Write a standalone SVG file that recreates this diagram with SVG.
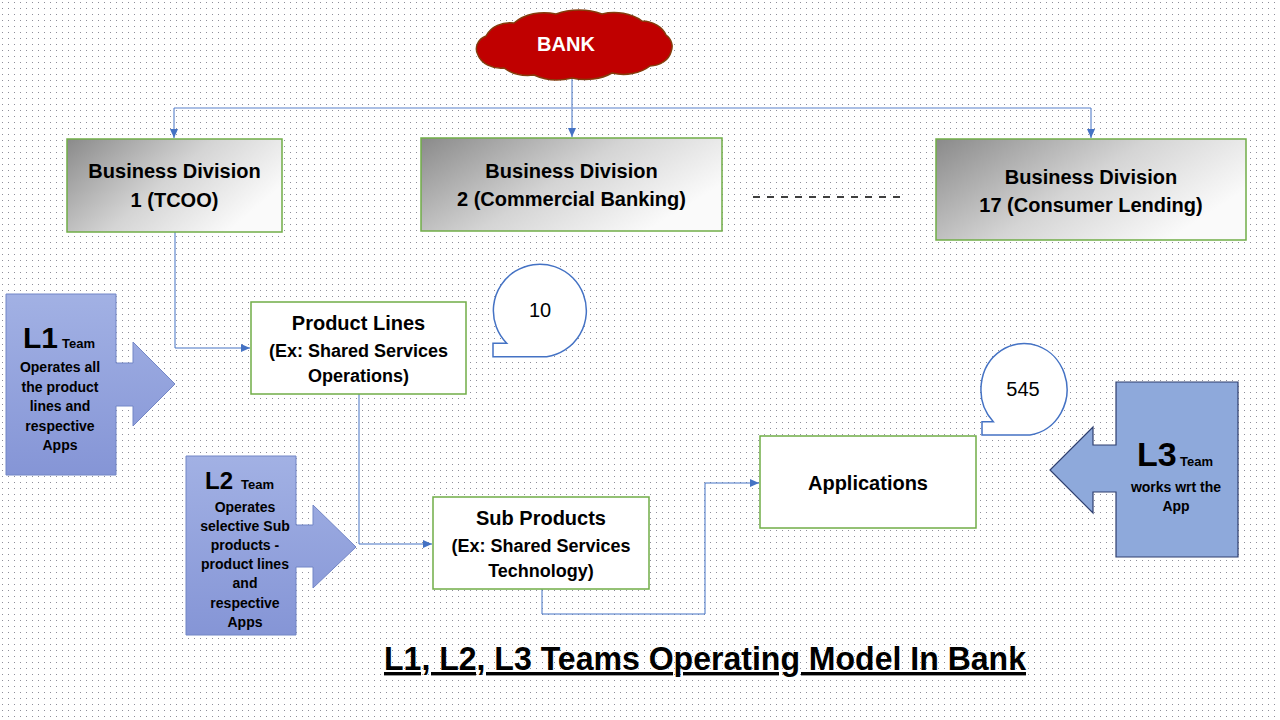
<svg xmlns="http://www.w3.org/2000/svg" width="1280" height="720" viewBox="0 0 1280 720">
<defs>
<pattern id="dots" width="6" height="6" patternUnits="userSpaceOnUse"><rect x="2" y="2" width="1" height="1" fill="#8e8e9a"/></pattern>
<linearGradient id="gray" x1="0" y1="0" x2="1" y2="0.5"><stop offset="0" stop-color="#8a8a8a"/><stop offset="0.55" stop-color="#d4d4d4"/><stop offset="1" stop-color="#fafafa"/></linearGradient>
<linearGradient id="blue" x1="0" y1="0" x2="0" y2="1"><stop offset="0" stop-color="#a2b1e4"/><stop offset="1" stop-color="#8595d6"/></linearGradient>
<marker id="arr" markerUnits="userSpaceOnUse" markerWidth="9" markerHeight="8" refX="9" refY="4" orient="auto"><path d="M0,0 L9,4 L0,8 z" fill="#4472C4"/></marker>
<style>
.t{font-family:"Liberation Sans",Arial,sans-serif;font-weight:bold;fill:#000;text-anchor:middle}
.bd{font-size:20px}
.sm{font-size:18px}
.lt{font-size:14px}
.box{fill:#fff;stroke:#70AD47;stroke-width:1.5}
.gbox{fill:url(#gray);stroke:#70AD47;stroke-width:1.5}
.con{fill:none;stroke:#4472C4;stroke-width:1}
.bub{fill:#fff;stroke:#4472C4;stroke-width:1.5}
.num{font-family:"Liberation Sans",Arial,sans-serif;font-size:20px;fill:#000;text-anchor:middle}
</style>
</defs>
<rect width="1280" height="720" fill="#fff"/>
<rect width="1280" height="720" fill="url(#dots)"/>

<g id="connectors">
<path class="con" d="M572,78 V137" marker-end="url(#arr)"/>
<path d="M174,108 H1091" fill="none" stroke="#8FAADC" stroke-width="1.5"/>
<path class="con" d="M174,108 V138" marker-end="url(#arr)"/>
<path class="con" d="M1091,108 V138" marker-end="url(#arr)"/>
<path class="con" d="M175,232 V348 H250" marker-end="url(#arr)"/>
<path class="con" d="M359,394 V544 H432" marker-end="url(#arr)"/>
<path class="con" d="M542,589 V614 H705 V483 H759" marker-end="url(#arr)"/>
<line x1="753" y1="197" x2="905" y2="197" stroke="#000" stroke-width="1.5" stroke-dasharray="7,7"/>
</g>

<g id="bank">
<path d="M478,55 A16,14 0 0 1 486,36 A26,22 0 0 1 514,23 A40,30 0 0 1 556,14 A46,30 0 0 1 602,14 A40,30 0 0 1 642,21 A26,20 0 0 1 666,35 A14,14 0 0 1 671,52 A22,18 0 0 1 650,66 A36,26 0 0 1 612,73 A40,26 0 0 1 572,78 A40,26 0 0 1 534,75 A34,24 0 0 1 504,68 A24,18 0 0 1 478,55 Z" fill="#C00000" stroke="#843C0C" stroke-width="1.5"/>
<text x="566" y="51" class="t" style="font-size:20px;fill:#fff">BANK</text>
</g>

<g id="bd1">
<rect class="gbox" x="67" y="139" width="215" height="93"/>
<text class="t bd" x="174.5" y="178">Business Division</text>
<text class="t bd" x="174.5" y="207">1 (TCOO)</text>
</g>
<g id="bd2">
<rect class="gbox" x="421" y="138" width="301" height="93"/>
<text class="t bd" x="571.5" y="178">Business Division</text>
<text class="t bd" x="571.5" y="206">2 (Commercial Banking)</text>
</g>
<g id="bd17">
<rect class="gbox" x="936" y="139" width="310" height="101"/>
<text class="t bd" x="1091" y="184">Business Division</text>
<text class="t bd" x="1091" y="212">17 (Consumer Lending)</text>
</g>

<g id="productlines">
<rect class="box" x="251" y="302" width="215" height="92"/>
<text class="t bd" x="358.5" y="330">Product Lines</text>
<text class="t sm" x="358.5" y="357">(Ex: Shared Services</text>
<text class="t sm" x="358.5" y="382">Operations)</text>
</g>
<g id="bubble10">
<path class="bub" d="M506.7,343.3 A46.5,46.5 0 1 1 546.7,356.7 H493 V343.3 Z"/>
<text class="num" x="540" y="317">10</text>
</g>

<g id="subproducts">
<rect class="box" x="433" y="497" width="216" height="92"/>
<text class="t bd" x="541" y="525">Sub Products</text>
<text class="t sm" x="541" y="552">(Ex: Shared Services</text>
<text class="t sm" x="541" y="577">Technology)</text>
</g>

<g id="applications">
<rect class="box" x="760" y="436" width="216" height="92"/>
<text class="t bd" x="868" y="490">Applications</text>
</g>
<g id="bubble545">
<path class="bub" d="M993.3,421.7 A43,46 0 1 1 1030,435 H982 V421.7 Z"/>
<text class="num" x="1023" y="396">545</text>
</g>

<g id="l1">
<path d="M6,294 H116 V363 H133 V342 L175,384 L133,426 V406 H116 V475 H6 Z" fill="url(#blue)" stroke="#7386c6" stroke-width="1"/>
<text x="23" y="348" class="t" style="text-anchor:start;font-size:30px">L1</text>
<text x="62" y="348" class="t" style="text-anchor:start;font-size:13px">Team</text>
<text class="t lt" x="60" y="372">Operates all</text>
<text class="t lt" x="60" y="392">the product</text>
<text class="t lt" x="60" y="411">lines and</text>
<text class="t lt" x="60" y="431">respective</text>
<text class="t lt" x="60" y="450">Apps</text>
</g>

<g id="l2">
<path d="M186,456 H296 V525 H313 V505 L356,547 L313,588 V567 H296 V635 H186 Z" fill="url(#blue)" stroke="#7386c6" stroke-width="1"/>
<text x="205" y="489" class="t" style="text-anchor:start;font-size:24px">L2</text>
<text x="241" y="489" class="t" style="text-anchor:start;font-size:13px">Team</text>
<text class="t lt" x="245" y="512">Operates</text>
<text class="t lt" x="245" y="531">selective Sub</text>
<text class="t lt" x="245" y="550">products -</text>
<text class="t lt" x="245" y="569">product lines</text>
<text class="t lt" x="245" y="588">and</text>
<text class="t lt" x="245" y="608">respective</text>
<text class="t lt" x="245" y="627">Apps</text>
</g>

<g id="l3">
<path d="M1116,382 H1238 V557 H1116 V492 H1093 V513 L1050,470 L1093,427 V445 H1116 Z" fill="#8EA9DB" stroke="#2F3F6F" stroke-width="1.2"/>
<text x="1137" y="466" class="t" style="text-anchor:start;font-size:34px">L3</text>
<text x="1180" y="466" class="t" style="text-anchor:start;font-size:13px">Team</text>
<text class="t lt" x="1176" y="492">works wrt the</text>
<text class="t lt" x="1176" y="511">App</text>
</g>

<g id="title">
<text x="384" y="670" class="t" style="text-anchor:start;font-size:34px;text-decoration:underline" textLength="642" lengthAdjust="spacingAndGlyphs">L1, L2, L3 Teams Operating Model In Bank</text>
</g>
</svg>
